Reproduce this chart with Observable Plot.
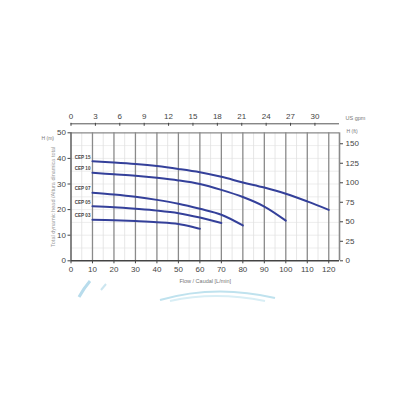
<!DOCTYPE html>
<html><head><meta charset="utf-8">
<script src="https://cdn.jsdelivr.net/npm/d3@7"></script>
<script src="https://cdn.jsdelivr.net/npm/@observablehq/plot@0.6"></script>
<style>
body{margin:0;background:#fff;font-family:"Liberation Sans",Arial,sans-serif;}
#wrap{position:relative;width:400px;height:400px;}
#deco{position:absolute;left:0;top:0;pointer-events:none;}
</style></head>
<body><div id="wrap"></div>
<script>
// Flow (L/min)
const flow15 = [10,20,30,40,50,60,70,80,90,100,110,120];
const cep15  = [38.9,38.4,37.8,37.0,35.9,34.6,32.8,30.6,28.6,26.2,23.2,19.9];
const flow10 = [10,20,30,40,50,60,70,80,90,100];
const cep10  = [34.4,33.8,33.2,32.4,31.4,30.0,27.7,24.9,21.2,15.7];
const flow07 = [10,20,30,40,50,60,70,80];
const cep07  = [26.6,25.9,25.0,23.8,22.3,20.3,18.0,13.8];
const flow05 = [10,20,30,40,50,60,70];
const cep05  = [21.3,20.9,20.3,19.6,18.6,16.9,14.8];
const flow03 = [10,20,30,40,50,60];
const cep03  = [16.0,15.8,15.5,15.1,14.4,12.5];
const seriesNames = ["CEP 15","CEP 10","CEP 07","CEP 05","CEP 03"];

const xTicks = [0,10,20,30,40,50,60,70,80,90,100,110,120];
const yTicks = [0,10,20,30,40,50];
const gpmTicks = [0,3,6,9,12,15,18,21,24,27,30];
const ftTicks = [0,25,50,75,100,125,150];
const majorX = [10,20,30,40,50,60,70,80,90,100,110,120];
const minorX = [5,15,25,35,45,55,65,75,85,95,105,115];
const minorY = [5,10,15,20,25,30,35,40,45];

const L_PER_GAL = 3.78541, M_PER_FT = 0.3048;
const flows = [flow15, flow10, flow07, flow05, flow03];
const heads = [cep15, cep10, cep07, cep05, cep03];
const data = seriesNames.flatMap((s,i)=>flows[i].map((f,j)=>({series:s, flow:f, head:heads[i][j]})));
const starts = seriesNames.map((s,i)=>({series:s, flow:flows[i][0], head:heads[i][0]}));

const font = 8;
const chart = Plot.plot({
  width: 400, height: 400,
  marginLeft: 70.5, marginRight: 61, marginTop: 132.3, marginBottom: 139.7,
  style: {fontFamily: "Liberation Sans, Arial, sans-serif", background: "white"},
  x: {domain: [0,125]},
  y: {domain: [0,50]},
  marks: [
    Plot.ruleY(minorY, {stroke:"#e8e8e8", strokeWidth:0.8}),
    Plot.ruleX(minorX, {stroke:"#e0e0e0", strokeWidth:0.8}),
    Plot.ruleX(majorX, {stroke:"#8a8a8a", strokeWidth:1.3}),
    Plot.ruleX([125], {stroke:"#8a8a8a", strokeWidth:1.6}),
    Plot.ruleY([50], {stroke:"#8a8a8a", strokeWidth:1.3}),
    Plot.ruleX([0], {stroke:"#666", strokeWidth:1.6}),
    Plot.ruleY([0], {stroke:"#444", strokeWidth:1.4}),
    // top gpm axis
    Plot.ruleY([50], {dy:-9, stroke:"#555", strokeWidth:1}),
    Plot.axisX({anchor:"top", ticks: gpmTicks.map(g=>g*L_PER_GAL), tickFormat:(d)=>String(Math.round(d/L_PER_GAL)),
      tickSize:3, dy:-7.5, tickPadding:3, fontSize:font, color:"#444", label:null}),
    // bottom axis
    Plot.axisX({anchor:"bottom", ticks:xTicks, tickSize:3, tickPadding:3, fontSize:font, color:"#444", label:null}),
    // left axis
    Plot.axisY({anchor:"left", ticks:yTicks, tickSize:3, tickPadding:2, fontSize:font, color:"#444", label:null}),
    // right axis in ft
    Plot.axisY({anchor:"right", ticks: ftTicks.map(f=>f*M_PER_FT), tickFormat:(d)=>String(Math.round(d/M_PER_FT)),
      tickSize:3, tickPadding:3, fontSize:font, color:"#444", label:null}),
    Plot.line(data, {x:"flow", y:"head", z:"series", stroke:"#34409a", strokeWidth:2, curve:"catmull-rom"}),
    Plot.text(starts, {x:"flow", y:"head", text:"series", textAnchor:"end", dx:-2, dy:-4, fontSize:4.6, fill:"#444", fontWeight:"bold"}),
    Plot.text(["Flow / Caudal [L/min]"], {frameAnchor:"bottom", dy:22, fontSize:5.5, fill:"#777"}),
    Plot.text(["Total dynamic head /Altura dinamica total"], {frameAnchor:"left", textAnchor:"middle", rotate:-90, dx:-18, fontSize:5.5, fill:"#999"}),
    Plot.text(["H (m)"], {frameAnchor:"top-left", textAnchor:"end", dx:-17, dy:4, fontSize:5, fill:"#777"}),
    Plot.text(["US gpm"], {frameAnchor:"top-right", textAnchor:"start", dx:6, dy:-17, fontSize:5.5, fill:"#777"}),
    Plot.text(["H (ft)"], {frameAnchor:"top-right", textAnchor:"start", dx:7, dy:-3, fontSize:5, fill:"#777"})
  ]
});
document.getElementById("wrap").appendChild(chart);
// decorative faint swooshes
const ns = "http://www.w3.org/2000/svg";
const deco = document.createElementNS(ns, "svg");
deco.setAttribute("id","deco"); deco.setAttribute("width",400); deco.setAttribute("height",400);
deco.innerHTML = '<path d="M160 300 Q215 284 275 298" fill="none" stroke="#bfe2ee" stroke-width="2"/>'+
  '<path d="M170 301 Q215 291 265 301" fill="none" stroke="#d8eef5" stroke-width="2"/>'+
  '<path d="M79 297 Q84 288 90 281" fill="none" stroke="#b8dcec" stroke-width="3"/>'+
  '<path d="M101 290 L106 284" fill="none" stroke="#cce6f0" stroke-width="2"/>';
document.getElementById("wrap").appendChild(deco);
</script></body></html>
